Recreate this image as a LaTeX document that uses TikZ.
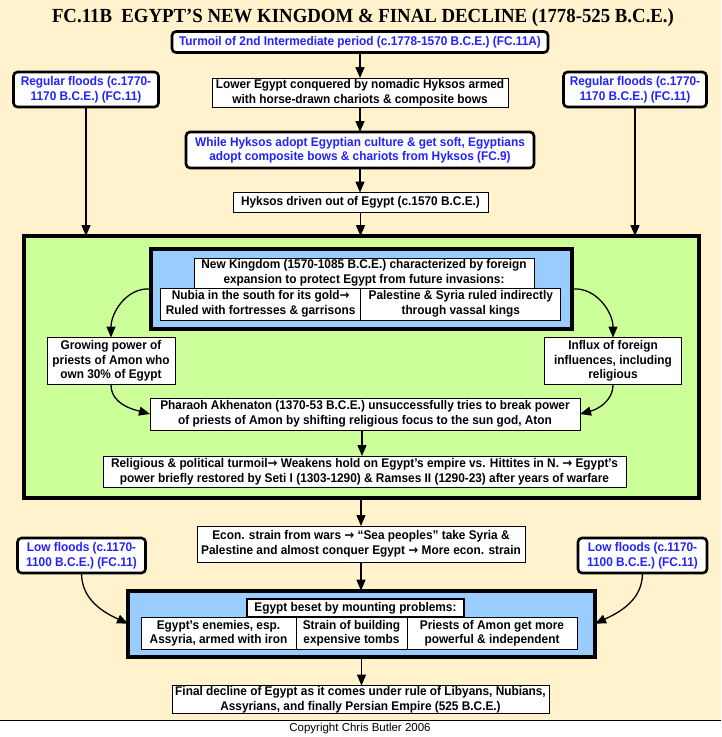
\documentclass[tikz,border=0pt]{standalone}
\usepackage{fontspec}
\setmainfont{Liberation Sans}
\newfontfamily\bodyfont[FakeStretch=0.94]{Liberation Sans}
\newfontfamily\titlefont{Liberation Serif}
\newfontfamily\arrfont[FakeStretch=0.94]{DejaVu Sans}
\newcommand\ra{{\arrfont\bfseries →}}
\usetikzlibrary{arrows.meta}
\definecolor{bg}{RGB}{255,242,204}
\definecolor{grn}{RGB}{204,255,153}
\definecolor{lblue}{RGB}{153,204,255}
\definecolor{btxt}{RGB}{34,34,255}
\tikzset{
 base/.style={inner sep=0pt, outer sep=0pt, align=center, font=\bodyfont\bfseries\fontsize{12.6}{14.5}\selectfont},
 pbox/.style={base, draw, line width=0.9pt, fill=white},
 rbox/.style={base, draw, line width=2.6pt, rounded corners=4pt, fill=white, text=btxt},
 frame/.style={draw, line width=3.6pt, inner sep=0pt, outer sep=0pt},
 sz/.style 2 args={minimum width=#1pt, minimum height=#2pt},
 arr/.style={line width=1.3pt, -{Triangle[length=11pt,width=9pt]}},
}
\begin{document}
\begin{tikzpicture}[x=1pt,y=-1pt]
\useasboundingbox (0,0) rectangle (721,737);
\fill[bg] (0,0) rectangle (721,720);
\fill[white] (0,720) rectangle (721,737);
\draw[line width=0.8pt] (0,720) -- (721,720);

\node[font=\titlefont\bfseries\fontsize{20}{20}\selectfont] (title) at (363,18) {\scalebox{0.94}[1]{FC.11B\ \ EGYPT’S NEW KINGDOM \& FINAL DECLINE (1778-525 B.C.E.)}};

\node[rbox, sz={376}{21}] (box1) at (360,42) {Turmoil of 2nd Intermediate period (c.1778-1570 B.C.E.) (FC.11A)};
\node[pbox, sz={296}{29}] (box2) at (360,92.5) {Lower Egypt conquered by nomadic Hyksos armed\\with horse-drawn chariots \& composite bows};
\node[rbox, sz={348}{36}] (box3) at (360,150) {While Hyksos adopt Egyptian culture \& get soft, Egyptians\\adopt composite bows \& chariots from Hyksos (FC.9)};
\node[pbox, sz={255}{20}] (box4) at (360.5,202.5) {Hyksos driven out of Egypt (c.1570 B.C.E.)};
\node[rbox, sz={145}{35}] (floodL) at (86,89.5) {Regular floods (c.1770-\\1170 B.C.E.) (FC.11)};
\node[rbox, sz={143}{35}] (floodR) at (635,89.5) {Regular floods (c.1770-\\1170 B.C.E.) (FC.11)};

\node[frame, fill=grn, sz={675}{262}] (green) at (361.5,367) {};
\node[frame, fill=lblue, sz={421}{80}] (blue1) at (361.5,289) {};
\node[pbox, sz={340}{30}] (nkh) at (364,273) {New Kingdom (1570-1085 B.C.E.) characterized by foreign\\expansion to protect Egypt from future invasions:};
\node[pbox, sz={200}{32}] (nk1) at (260.6,304) {Nubia in the south for its gold\ra\\Ruled with fortresses \& garrisons};
\node[pbox, sz={200}{32}] (nk2) at (460.8,304) {Palestine \& Syria ruled indirectly\\through vassal kings};
\node[pbox, sz={128}{47}] (grow) at (111,361) {Growing power of\\priests of Amon who\\own 30\% of Egypt};
\node[pbox, sz={137}{47}] (influx) at (613,361) {Influx of foreign\\influences, including\\religious};
\node[pbox, sz={430}{32}] (akh) at (365,414) {Pharaoh Akhenaton (1370-53 B.C.E.) unsuccessfully tries to break power\\of priests of Amon by shifting religious focus to the sun god, Aton};
\node[pbox, sz={523}{31}] (rel) at (364.5,471.5) {Religious \& political turmoil\ra{} Weakens hold on Egypt’s empire vs. Hittites in N. \ra{} Egypt’s\\power briefly restored by Seti I (1303-1290) \& Ramses II (1290-23) after years of warfare};

\node[pbox, sz={328}{36}] (econ) at (361,544) {Econ. strain from wars \ra{} “Sea peoples” take Syria \&\\Palestine and almost conquer Egypt \ra{} More econ. strain};
\node[rbox, sz={128}{35}] (lowL) at (81.5,555.5) {Low floods (c.1170-\\1100 B.C.E.) (FC.11)};
\node[rbox, sz={129}{35}] (lowR) at (642.5,555.5) {Low floods (c.1170-\\1100 B.C.E.) (FC.11)};
\node[frame, fill=lblue, sz={467}{66}] (blue2) at (361.5,623.7) {};
\node[pbox, line width=2pt, sz={217}{18}] (bh) at (355.5,607.8) {Egypt beset by mounting problems:};
\node[pbox, sz={155}{32}] (p1) at (218.5,633) {Egypt’s enemies, esp.\\Assyria, armed with iron};
\node[pbox, sz={111}{32}] (p2) at (351.5,633) {Strain of building\\expensive tombs};
\node[pbox, sz={170}{32}] (p3) at (492,633) {Priests of Amon get more\\powerful \& independent};
\node[pbox, sz={377}{28}] (final) at (360.5,699.5) {Final decline of Egypt as it comes under rule of Libyans, Nubians,\\Assyrians, and finally Persian Empire (525 B.C.E.)};
\node[font=\fontsize{11.5}{13}\selectfont] (copy) at (360,728.5) {Copyright Chris Butler 2006};

\draw[arr] (box1.south) -- (box2.north);
\draw[arr] (box2.south) -- (box2.south |- box3.north);
\draw[arr] (box3.south) -- (box3.south |- box4.north);
\draw[arr] (box4.south) -- (box4.south |- green.north);
\draw[arr] (floodL.south) -- (floodL.south |- green.north);
\draw[arr] (floodR.south) -- (floodR.south |- green.north);
\draw[arr] (blue1.west) to[out=175,in=90] (grow.north);
\draw[arr] (blue1.east) to[out=5,in=90] (influx.north);
\draw[arr] (grow.south) to[out=-90,in=165] (akh.west);
\draw[arr] (influx.south) to[out=-90,in=15] (akh.east);
\draw[arr] ([xshift=-3pt]akh.south) -- ([xshift=-3pt]akh.south |- rel.north);
\draw[arr] (econ.north |- green.south) -- (econ.north);
\draw[arr] (econ.south) -- (econ.south |- blue2.north);
\draw[arr] (lowL.south) to[out=-90,in=155] (blue2.west);
\draw[arr] (lowR.south) to[out=-90,in=25] (blue2.east);
\draw[arr] (blue2.south) -- (blue2.south |- final.north);
\end{tikzpicture}
\end{document}
